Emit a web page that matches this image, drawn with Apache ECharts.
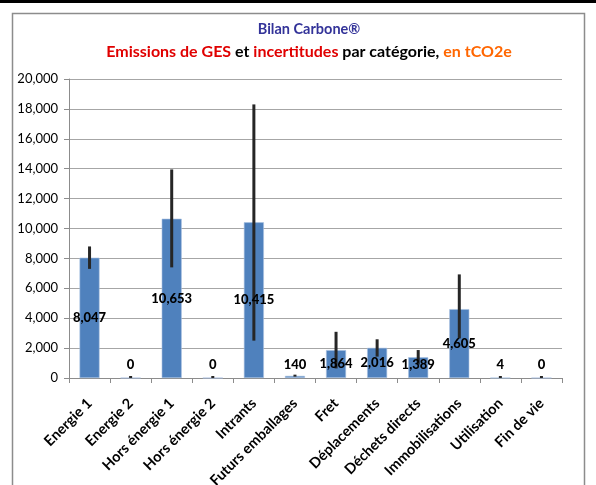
<!DOCTYPE html>
<html>
<head>
<meta charset="utf-8">
<script src="https://cdn.jsdelivr.net/npm/echarts@6/dist/echarts.min.js"></script>
<style>
html,body{margin:0;padding:0;background:#fff;}
#c{width:596px;height:485px;}
</style>
</head>
<body>
<div id="c"></div>
<script>
const categories = ['Energie 1','Energie 2','Hors énergie 1','Hors énergie 2','Intrants','Futurs emballages','Fret','Déplacements','Déchets directs','Immobilisations','Utilisation','Fin de vie'];
const emissions = [8047, 0, 10653, 0, 10415, 140, 1864, 2016, 1389, 4605, 4, 0];
const errLow  = [7300, 0, 7400, 0, 2500, 90, 640, 1430, 900, 2650, 0, 0];
const errHigh = [8800, 0, 13950, 0, 18300, 200, 3090, 2590, 1870, 6930, 10, 0];
const yTicks = [0, 2000, 4000, 6000, 8000, 10000, 12000, 14000, 16000, 18000, 20000];

const fmt = v => Math.round(v).toLocaleString('en-US');
const FONT = 'Lato, "Open Sans", sans-serif';

const chart = echarts.init(document.getElementById('c'), null, {renderer:'canvas'});
const errData = categories.map((c,i)=>[i, errLow[i], errHigh[i]]);

chart.setOption({
  animation:false,
  backgroundColor:'#fff',
  textStyle:{fontFamily:FONT},
  graphic:[
    {type:'rect', shape:{x:0,y:0,width:596,height:3}, style:{fill:'#000'}, z:100},
    {type:'rect', shape:{x:12.5,y:13.5,width:572,height:480}, style:{fill:'none',stroke:'#8c8c8c',lineWidth:1.5}, z:100},
    {type:'text', x:309, y:29, style:{text:'Bilan Carbone®', font:'bold 14.5px '+FONT, fill:'#333399', align:'center', verticalAlign:'middle'}},
    {type:'text', x:309, y:52, style:{
      text:'{r|Emissions de GES}{k| et }{r|incertitudes}{k| par catégorie, }{o|en tCO2e}',
      align:'center', verticalAlign:'middle',
      rich:{
        r:{fill:'#e00000', font:'bold 16px '+FONT},
        k:{fill:'#000000', font:'bold 16px '+FONT},
        o:{fill:'#ff6600', font:'bold 16px '+FONT}
      }
    }}
  ],
  grid:{left:69, right:34, top:79, bottom:107, containLabel:false, outerBoundsMode:'none'},
  xAxis:{
    type:'category',
    data:categories,
    axisLine:{lineStyle:{color:'#8c8c8c'}},
    axisTick:{show:true, length:5, lineStyle:{color:'#8c8c8c'}},
    axisLabel:{rotate:45, interval:0, color:'#000', fontWeight:'bold', fontSize:14.5, fontFamily:FONT, margin:23}
  },
  yAxis:{
    type:'value', min:0, max:20000, interval:2000,
    axisLine:{show:true, lineStyle:{color:'#8c8c8c'}},
    axisTick:{show:true, length:5, lineStyle:{color:'#8c8c8c'}},
    splitLine:{lineStyle:{color:'#a6a6a6'}},
    axisLabel:{color:'#000', fontSize:13, fontFamily:FONT, margin:11,
      formatter:v => yTicks.includes(v) ? fmt(v) : ''}
  },
  series:[
    {
      type:'bar', data:emissions, barWidth:20, z:2,
      itemStyle:{color:'#4f81bd', borderColor:'#a9c1e0', borderWidth:0.6}
    },
    {
      type:'custom', z:3, data:errData,
      renderItem:(params, api)=>{
        const lo = api.coord([api.value(0), api.value(1)]);
        const hi = api.coord([api.value(0), api.value(2)]);
        const h = Math.max(lo[1]-hi[1], 2);
        return {type:'rect', shape:{x:lo[0]-1.5, y:lo[1]-h, width:3, height:h}, style:{fill:'#262626'}};
      }
    },
    {
      type:'bar', data:emissions, barWidth:20, barGap:'-100%', z:4,
      itemStyle:{color:'rgba(0,0,0,0)'},
      label:{show:true, color:'#000', fontWeight:900, fontSize:13, fontFamily:FONT,
        formatter:p => fmt(p.value),
        position:'insideBottom', distance:0
      },
      labelLayout:(params)=>{
        const r = params.rect;
        const barH = r.height;
        const cy = r.y + barH/2;
        const bottom = r.y + barH;
        const y = Math.min(cy, bottom - 13);
        return {y: y, verticalAlign:'middle', x: r.x + r.width/2, align:'center'};
      }
    }
  ]
});
</script>
</body>
</html>
